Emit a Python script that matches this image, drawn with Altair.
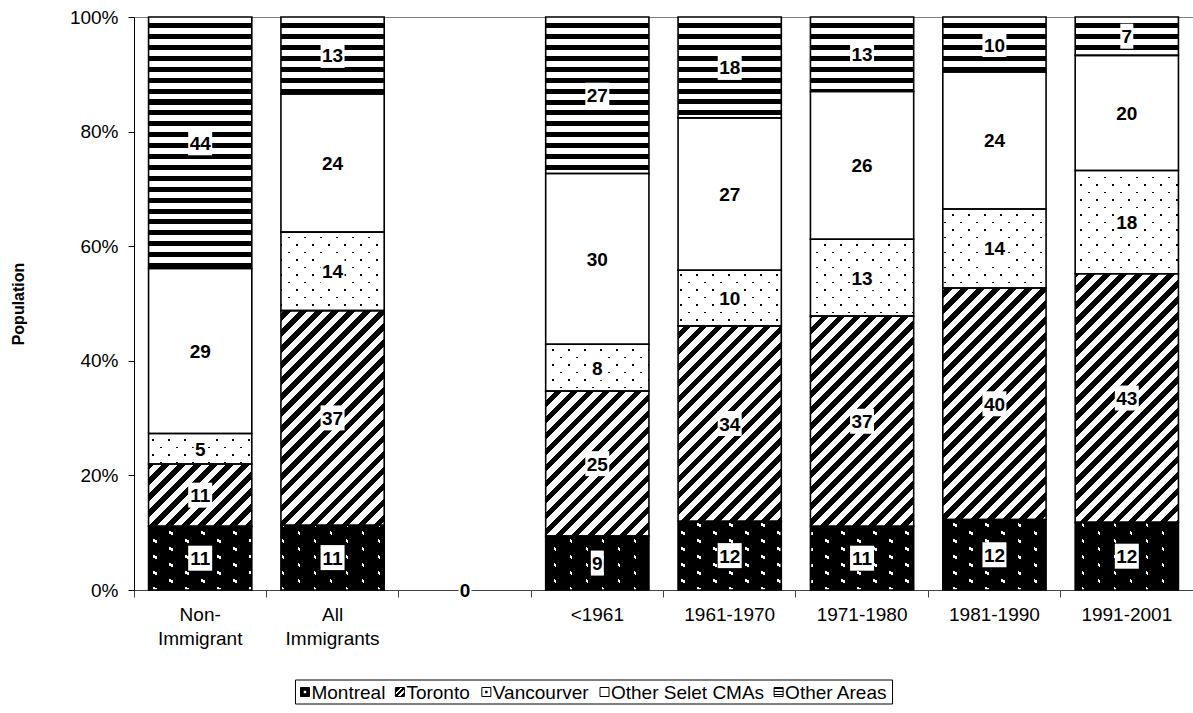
import math
import altair as alt

# ---------------------------------------------------------------- data
categories = ["Non-Immigrant", "All Immigrants", " ", "<1961", "1961-1970",
              "1971-1980", "1981-1990", "1991-2001"]
series_names = ["Montreal", "Toronto", "Vancourver", "Other Selet CMAs", "Other Areas"]

montreal    = [11.1, 11.3, None,  9.4, 12.0, 11.1, 12.3, 11.8]
toronto     = [10.9, 37.4, None, 25.3, 34.1, 36.7, 40.4, 43.4]
vancouver   = [ 5.3, 13.7, None,  8.2,  9.7, 13.4, 13.8, 18.0]
other_cmas  = [28.8, 24.1, None, 29.8, 26.6, 25.8, 23.9, 20.1]
other_areas = [43.9, 13.4, None, 27.3, 17.6, 13.0,  9.6,  6.7]

# the spacer column between the two groups only carries a zero label
spacer_value = 0

# ---------------------------------------------------------------- layout
FONT = "Liberation Sans"
WIDTH, HEIGHT = 1059, 573
PAD = {"left": 134, "top": 17, "right": 0, "bottom": 123}
BAR_FRAC = 0.78
step = WIDTH / len(categories)
bar_w = BAR_FRAC * step
px = HEIGHT / 100.0
CLEAR = "rgba(0,0,0,0)"


def unit(vx, vy):
    n = math.hypot(vx, vy)
    return vx / n, vy / n


def band_gradient(w, h, normal, period, band, phase, on, off):
    """Linear gradient with hard stops: bands of colour `on`, `band` px wide,
    repeating every `period` px along the pixel-space direction `normal`."""
    nx, ny = unit(*normal)
    corners = [(0, 0), (1, 0), (0, 1), (1, 1)]
    svals = [nx * cx * w + ny * cy * h for cx, cy in corners]
    i0 = min(range(4), key=svals.__getitem__)
    s0, s1 = svals[i0], max(svals)
    span = s1 - s0
    lam = span / (nx * nx * w * w + ny * ny * h * h)
    x1, y1 = corners[i0]
    stops = [{"offset": 0, "color": off}]
    k = math.floor((s0 - phase) / period) - 1
    while phase + k * period - band / 2 < s1:
        c = phase + k * period
        lo, hi = max(c - band / 2, s0), min(c + band / 2, s1)
        if hi > lo:
            a = round((lo - s0) / span, 5)
            b = round((hi - s0) / span, 5)
            stops += [{"offset": a, "color": off}, {"offset": a, "color": on},
                      {"offset": b, "color": on}, {"offset": b, "color": off}]
        k += 1
    stops.append({"offset": 1, "color": off})
    return {"gradient": "linear", "x1": x1, "y1": y1,
            "x2": round(x1 + lam * nx * w, 6), "y2": round(y1 + lam * ny * h, 6),
            "stops": stops}


def hstripes(ox, oy, w, h):
    return band_gradient(w, h, (0, 1), 10.9, 5.0, 8.7 - oy, "#000", "#fff")


def diagonal(ox, oy, w, h):
    nx, ny = unit(1, 1)
    return band_gradient(w, h, (1, 1), 11.3, 5.3, 0.0 - (nx * ox + ny * oy), "#000", "#fff")


def lattice(ox, oy, w, h, u, v, widths, origin, dot, bg):
    """Two overlay gradients whose band intersections form a dot lattice."""
    det = abs(u[0] * v[1] - u[1] * v[0])
    out = []
    for idx, (vec, width) in enumerate(((u, widths[0]), (v, widths[1]))):
        n = unit(-vec[1], vec[0])
        spacing = det / math.hypot(*vec)
        phase = n[0] * (origin[0] - ox) + n[1] * (origin[1] - oy)
        if idx == 0:
            out.append(band_gradient(w, h, n, spacing, width, phase, dot, CLEAR))
        else:
            out.append(band_gradient(w, h, n, spacing, width, phase, CLEAR, bg))
    return out


def box_shape(text):
    bw, bh = 2 + 11 * len(text), 25.0
    r = bw / bh
    return f"M{-r:.4f},-1H{r:.4f}V1H{-r:.4f}Z"


# ---------------------------------------------------------------- tables
series_values = [montreal, toronto, vancouver, other_cmas, other_areas]
bars, overlays, labels = [], [], []
for i, cat in enumerate(categories):
    col = [vals[i] for vals in series_values]
    if col[0] is None:
        labels.append({"cat": cat, "mid": 0, "value": spacer_value,
                       "box": box_shape(f"{spacer_value:.0f}")})
        continue
    total = sum(col)
    left = (i + 0.5) * step - bar_w / 2
    acc = 0.0
    for name, v in zip(series_names, col):
        pct = v / total * 100
        y0, y1 = acc, acc + pct
        acc = y1
        top, h = (100 - y1) * px, pct * px
        if name == "Montreal":
            fill = "#000"
            g1, g2 = lattice(left, top, bar_w, h, (0, 16), (16, 8), (3.0, 2.9),
                             (5, 4), "#fff", "#000")
            overlays.append({"cat": cat, "y0": y0, "y1": y1, "g1": g1, "g2": g2})
        elif name == "Toronto":
            fill = diagonal(left, top, bar_w, h)
        elif name == "Vancourver":
            fill = "#fff"
            g1, g2 = lattice(left, top, bar_w, h, (8, 7.5), (8, -7.5), (1.9, 1.9),
                             (3, 3), "#000", "#fff")
            overlays.append({"cat": cat, "y0": y0, "y1": y1, "g1": g1, "g2": g2})
        elif name == "Other Areas":
            fill = hstripes(left, top, bar_w, h)
        else:
            fill = "#fff"
        bars.append({"cat": cat, "series": name, "y0": y0, "y1": y1, "fill": fill})
        labels.append({"cat": cat, "mid": (y0 + y1) / 2, "value": v,
                       "box": box_shape(f"{v:.0f}")})

# legend row (pixel layout below the plot)
LEG_SIZE = 19
char_w = {"M": .833, "o": .556, "n": .556, "t": .278, "r": .333, "e": .556,
          "a": .556, "l": .222, "T": .611, "V": .667, "c": .5, "u": .556,
          "v": .5, "O": .778, "h": .556, "S": .667, "C": .722, "A": .667,
          "s": .5, " ": .278}
text_w = [sum(char_w.get(ch, .556) for ch in s) * LEG_SIZE for s in series_names]
MARK, MGAP, IGAP, BPAD = 9, 2, 10, 5
leg_total = sum(MARK + MGAP + tw for tw in text_w) + IGAP * (len(series_names) - 1)
leg_left = 594 - PAD["left"] - leg_total / 2
leg_y = 692 - PAD["top"]
legend_rows = []
x = leg_left
for name, tw in zip(series_names, text_w):
    cx = x + MARK / 2
    if name == "Toronto":
        mfill = band_gradient(9, 9, (1, 1), 4.0, 1.6, 0.5, "#fff", "#000")
    elif name == "Other Areas":
        mfill = band_gradient(9, 9, (0, 1), 3.0, 1.5, 1.0, "#000", "#fff")
    elif name == "Montreal":
        mfill = "#000"
    else:
        mfill = "#fff"
    dot = {"Montreal": "#fff", "Vancourver": "#000"}.get(name, "none")
    legend_rows.append({"name": name, "mx": cx, "tx": x + MARK + MGAP,
                        "mfill": mfill, "dot": dot})
    x += MARK + MGAP + tw + IGAP
box_rows = [{"x0": leg_left - BPAD, "x1": x - IGAP + BPAD}]

# ---------------------------------------------------------------- encodings
x_axis = alt.Axis(
    title=None, labelAngle=0, labelFontSize=19, labelColor="#000", labelFont=FONT,
    labelLineHeight=24, labelPadding=8, labelBaseline="top", labelOverlap=False,
    labelExpr="datum.value == 'Non-Immigrant' ? ['Non-', 'Immigrant'] : split(datum.value, ' ')",
    tickSize=7, tickColor="#444", domainColor="#444", bandPosition=0, grid=False,
)
y_axis = alt.Axis(
    values=[0, 20, 40, 60, 80, 100], labelExpr="datum.value + '%'", grid=False,
    tickSize=6, tickColor="#000", domainColor="#000", labelFontSize=19,
    labelPadding=10, labelColor="#000", labelFont=FONT,
    title="Population", titleFont=FONT, titleFontSize=16, titleFontWeight="bold",
    titleColor="#000", titleX=-116, titleY=HEIGHT / 2, titleAngle=270,
    titleAlign="center", titleBaseline="middle",
)
x_enc = alt.X("cat:N", scale=alt.Scale(domain=categories, paddingInner=0, paddingOuter=0),
              axis=x_axis)
y_scale = alt.Scale(domain=[0, 100], nice=False)
bar_width = alt.RelativeBandSize(BAR_FRAC)

base = alt.Chart(alt.Data(values=bars)).mark_bar(width=bar_width, strokeWidth=0).encode(
    x=x_enc, y=alt.Y("y1:Q", scale=y_scale, axis=y_axis), y2="y0:Q",
    fill=alt.Fill("fill:N", scale=None),
)
dots_a = alt.Chart(alt.Data(values=overlays)).mark_bar(width=bar_width, strokeWidth=0).encode(
    x=x_enc, y=alt.Y("y1:Q", scale=y_scale, axis=y_axis), y2="y0:Q",
    fill=alt.Fill("g1:N", scale=None),
)
dots_b = alt.Chart(alt.Data(values=overlays)).mark_bar(width=bar_width, strokeWidth=0).encode(
    x=x_enc, y=alt.Y("y1:Q", scale=y_scale, axis=y_axis), y2="y0:Q",
    fill=alt.Fill("g2:N", scale=None),
)
outline = alt.Chart(alt.Data(values=bars)).mark_bar(
    width=bar_width, fillOpacity=0, stroke="#000", strokeWidth=1.6
).encode(x=x_enc, y=alt.Y("y1:Q", scale=y_scale, axis=y_axis), y2="y0:Q")

label_box = alt.Chart(alt.Data(values=labels)).mark_point(
    filled=True, fill="#fff", opacity=1, strokeWidth=0
).encode(
    x=x_enc, y=alt.Y("mid:Q", scale=y_scale, axis=y_axis),
    shape=alt.Shape("box:N", scale=None), size=alt.value(625),
)
label_text = alt.Chart(alt.Data(values=labels)).mark_text(
    font=FONT, fontSize=19, fontWeight="bold", color="#000", baseline="middle", dy=1
).encode(
    x=x_enc, y=alt.Y("mid:Q", scale=y_scale, axis=y_axis),
    text=alt.Text("value:Q", format=".0f"),
)

legend_frame = alt.Chart(alt.Data(values=box_rows)).mark_rect(
    fill="#fff", stroke="#000", strokeWidth=1
).encode(
    x=alt.X("x0:Q", scale=None), x2="x1:Q",
    y=alt.value(leg_y - 12), y2=alt.value(leg_y + 12),
)
legend_marks = alt.Chart(alt.Data(values=legend_rows)).mark_point(
    shape="square", filled=True, size=81, stroke="#000", strokeWidth=1, opacity=1
).encode(
    x=alt.X("mx:Q", scale=None), y=alt.value(leg_y),
    fill=alt.Fill("mfill:N", scale=None),
)
legend_dots = alt.Chart(alt.Data(values=legend_rows)).transform_filter(
    "datum.dot != 'none'"
).mark_point(shape="square", filled=True, size=6, opacity=1).encode(
    x=alt.X("mx:Q", scale=None), y=alt.value(leg_y),
    fill=alt.Fill("dot:N", scale=None),
)
legend_text = alt.Chart(alt.Data(values=legend_rows)).mark_text(
    font=FONT, fontSize=LEG_SIZE, color="#000", align="left", baseline="middle", dy=1
).encode(
    x=alt.X("tx:Q", scale=None), y=alt.value(leg_y), text="name:N",
)

chart = alt.layer(
    base, dots_a, dots_b, outline, label_box, label_text,
    legend_frame, legend_marks, legend_dots, legend_text,
).properties(
    width=WIDTH, height=HEIGHT, padding=PAD,
    autosize=alt.AutoSizeParams(type="none"),
    background="#ffffff",
).configure_view(stroke="#808080", strokeWidth=1)

chart.save("out.html", embed_options={"renderer": "svg", "actions": False})
